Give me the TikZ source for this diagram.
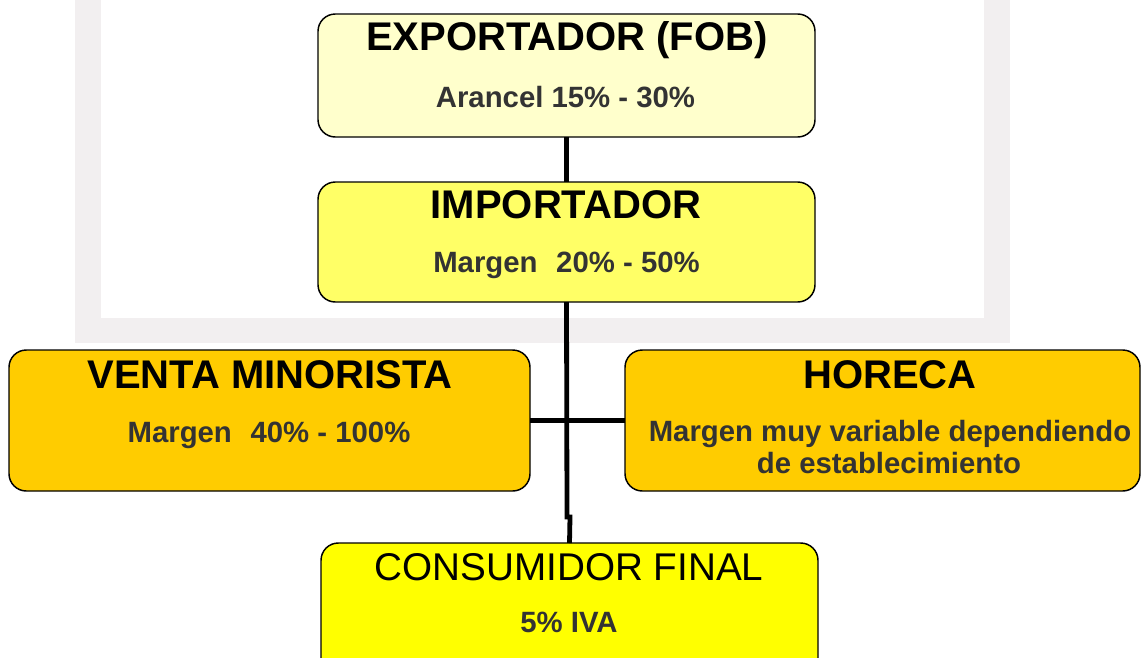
\documentclass[tikz,border=0pt]{standalone}
\usepackage{fontspec}
\setmainfont{Liberation Sans}
\definecolor{framegray}{HTML}{F2EFF0}
\definecolor{pale}{HTML}{FFFFCC}
\definecolor{lemon}{HTML}{FFFF66}
\definecolor{amber}{HTML}{FFCC00}
\definecolor{pureyellow}{HTML}{FFFF00}
\definecolor{subgray}{HTML}{333333}
\tikzset{
  box/.style={draw=black, line width=1.1pt, rounded corners=13pt, outer sep=0pt, inner sep=0pt},
  titletext/.style={anchor=base, inner sep=0pt, font=\fontsize{30}{33}\selectfont\bfseries, text=black},
  plaintitle/.style={anchor=base, inner sep=0pt, font=\fontsize{29}{32}\selectfont, text=black},
  subtext/.style={anchor=base, inner sep=0pt, font=\fontsize{22}{25}\selectfont\bfseries, text=subgray},
  conn/.style={draw=black, line width=3.6pt}
}
\begin{document}
\begin{tikzpicture}[x=0.75pt, y=-0.75pt]
\useasboundingbox (0,0) rectangle (1142,657);
\clip (0,0) rectangle (1142,657);
\fill[white] (0,0) rectangle (1142,657);
% gray frame
\fill[framegray] (75,-40) rectangle (1010,343);
\fill[white] (101,-40) rectangle (984,318);
% boxes
\node[box, fill=pale, minimum width={497*0.75pt}, minimum height={123*0.75pt}] (exp) at (566.5,75.5) {};
\node[box, fill=lemon, minimum width={497*0.75pt}, minimum height={120*0.75pt}] (imp) at (566.5,242) {};
\node[box, fill=amber, minimum width={521*0.75pt}, minimum height={141*0.75pt}] (venta) at (269.5,420.5) {};
\node[box, fill=amber, minimum width={515*0.75pt}, minimum height={141*0.75pt}] (horeca) at (882.5,420.5) {};
\node[box, fill=pureyellow, minimum width={497*0.75pt}, minimum height={141*0.75pt}] (cons) at (569.5,613.5) {};
% connectors
\coordinate (j1) at (567,517);
\coordinate (j2) at (570,517);
\draw[conn] (exp.south) -- (imp.north);
\draw[conn] (imp.south) -- (j1) -- (j2) -- (cons.north);
\draw[conn] (venta.east) -- (horeca.west);
% texts
\node[titletext] (expT) at (567,50) {EXPORTADOR (FOB)};
\node[subtext] (expS) at (565.5,107) {Arancel 15\% - 30\%};
\node[titletext] (impT) at (566,218) {IMPORTADOR};
\node[subtext] (impS) at (566.5,272) {Margen\hspace{14pt}20\% - 50\%};
\node[titletext] (ventaT) at (270,388) {VENTA MINORISTA};
\node[subtext] (ventaS) at (269,442) {Margen\hspace{14pt}40\% - 100\%};
\node[titletext] (horecaT) at (890,388) {HORECA};
\node[subtext] (horecaS1) at (890,441) {Margen muy variable dependiendo};
\node[subtext] (horecaS2) at (889,473) {de establecimiento};
\node[plaintitle] (consT) at (569,580) {CONSUMIDOR FINAL};
\node[subtext] (consS) at (569,632) {5\% IVA};
\end{tikzpicture}
\end{document}
